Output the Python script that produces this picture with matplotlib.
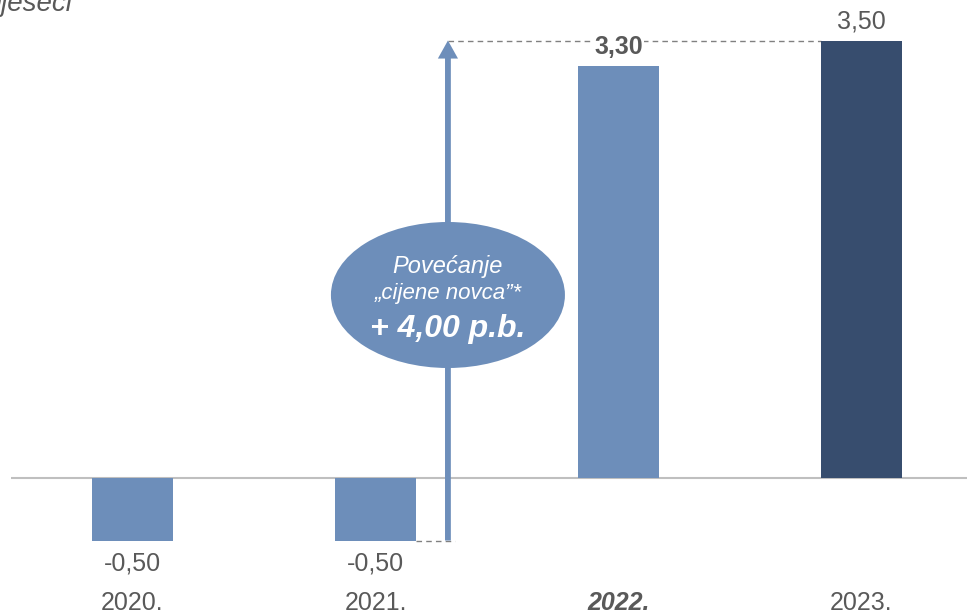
import matplotlib.pyplot as plt
from matplotlib.patches import Ellipse

plt.rcParams['font.family'] = ['Liberation Sans', 'DejaVu Sans']

# data
years = ['2020.', '2021.', '2022.', '2023.']
rates = [-0.50, -0.50, 3.30, 3.50]
labels = ['-0,50', '-0,50', '3,30', '3,50']
change_text = '+ 4,00 p.b.'

light = '#6D8EBA'
dark = '#374D6E'
grey = '#595959'
colors = [light, light, light, dark]

fig = plt.figure(figsize=(9.67, 6.15), dpi=100)
ax = fig.add_axes([11 / 967, 0, 956 / 967, 1])
ax.set_xlim(-0.5, 3.434)
ax.set_ylim(-1.096, 3.824)
ax.axis('off')

x = list(range(len(years)))
w = 1 / 3
ax.bar(x, rates, width=w, color=colors, zorder=2)
ax.axhline(0, color='#BFBFBF', lw=1.5, zorder=1)

# value labels
for i, (v, lab) in enumerate(zip(rates, labels)):
    if v < 0:
        ax.text(i, -0.68, lab, ha='center', va='center', fontsize=18, color=grey)
    elif i == 2:
        ax.text(i, v + 0.15, lab, ha='center', va='center', fontsize=18,
                color=grey, fontweight='bold', zorder=4,
                bbox=dict(facecolor='white', edgecolor='none', pad=1))
    else:
        ax.text(i, v + 0.15, lab, ha='center', va='center', fontsize=18, color=grey)

# year labels
for i, y in enumerate(years):
    if i == 2:
        ax.text(i, -1.0, y, ha='center', va='center', fontsize=18, color=grey,
                fontweight='bold', fontstyle='italic')
    else:
        ax.text(i, -1.0, y, ha='center', va='center', fontsize=18, color=grey)

# arrow showing the change
xa = 1.298
ax.plot([xa, 3 - w / 2], [rates[3], rates[3]], ls=(0, (4, 3)), color='#808080', lw=1, zorder=1)
ax.plot([1 + w / 2, xa + 0.03], [rates[1], rates[1]], ls=(0, (4, 3)), color='#808080', lw=1, zorder=1)
ax.annotate('', xy=(xa, rates[3]), xytext=(xa, rates[1]),
            arrowprops=dict(arrowstyle='simple,head_length=1.3,head_width=1.45,tail_width=0.42',
                            mutation_scale=10, lw=0, color=light,
                            shrinkA=0, shrinkB=0), zorder=3)

ell = Ellipse((xa, 1.464), 0.963, 1.168, facecolor=light, edgecolor='none', zorder=5)
ax.add_patch(ell)
ax.text(xa, 1.688, 'Povećanje', ha='center', va='center', fontsize=17,
        color='white', fontstyle='italic', zorder=6)
ax.text(xa, 1.472, '\u201ecijene novca\u201d*', ha='center', va='center', fontsize=16,
        color='white', fontstyle='italic', zorder=6)
ax.text(xa, 1.19, change_text, ha='center', va='center', fontsize=23,
        color='white', fontstyle='italic', fontweight='bold', zorder=6)

# cut-off heading at the top
fig.text(72 / 967, 1 - 11 / 615, 'mjeseci', ha='right', va='baseline',
         fontsize=20, color=grey, fontstyle='italic')

fig.savefig('out.png', dpi=100)
